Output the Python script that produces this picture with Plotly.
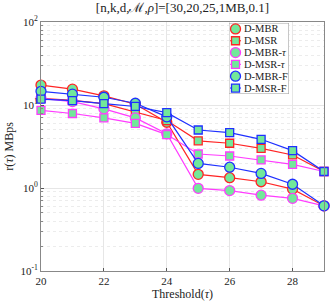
import plotly.graph_objects as go

thresholds = [20, 21, 22, 23, 24, 25, 26, 27, 28, 29]

d_mbr     = [17.4, 15.5, 12.9, 10.2, 6.2, 1.46, 1.33, 1.19, 0.97, 0.61]
d_msr     = [12.0, 11.4, 10.4, 8.3, 6.5, 3.7, 3.46, 3.0, 2.5, 1.58]
d_mbr_tau = [12.0, 11.0, 9.0, 7.0, 4.5, 0.99, 0.93, 0.82, 0.75, 0.61]
d_msr_tau = [8.6, 7.9, 7.0, 6.0, 4.4, 2.57, 2.43, 2.18, 1.93, 1.58]
d_mbr_f   = [14.6, 13.5, 12.4, 10.5, 7.2, 1.98, 1.78, 1.50, 1.11, 0.61]
d_msr_f   = [11.8, 11.3, 10.4, 9.6, 8.1, 5.0, 4.64, 3.86, 2.82, 1.58]

names = ["D-MBR", "D-MSR", "D-MBR-<i>τ</i>", "D-MSR-<i>τ</i>", "D-MBR-F", "D-MSR-F"]
series = [d_mbr, d_msr, d_mbr_tau, d_msr_tau, d_mbr_f, d_msr_f]
colors = ["#ff2424", "#ff2424", "#ff3cff", "#ff3cff", "#1f30ff", "#1f30ff"]
symbols = ["circle", "square", "circle", "square", "circle", "square"]
sizes = [10, 8, 10, 8, 10, 8]
fill = "#72e89a"
serif = "Liberation Serif, DejaVu Serif, serif"

fig = go.Figure()
for name, ys, c, s, sz in zip(names, series, colors, symbols, sizes):
    fig.add_trace(go.Scatter(
        x=thresholds, y=ys, name=name, mode="lines+markers",
        line=dict(color=c, width=1.2), cliponaxis=False, showlegend=False,
        marker=dict(symbol=s, size=sz, color=fill, line=dict(color=c, width=1.3)),
    ))

# ---- custom compact legend on an overlay axis (0..1 box coordinates) ----
n = len(names)
fig.add_trace(go.Scatter(
    x=[0, 1, 1, 0, 0], y=[0, 0, 1, 1, 0], xaxis="x2", yaxis="y2",
    mode="lines", fill="toself", fillcolor="white",
    line=dict(color="#a0a0a0", width=1), showlegend=False, hoverinfo="skip",
))
for i, (name, c, s, sz) in enumerate(zip(names, colors, symbols, sizes)):
    yy = 1 - (i + 0.5) / n
    fig.add_trace(go.Scatter(
        x=[0.02, 0.2], y=[yy, yy], xaxis="x2", yaxis="y2", mode="lines",
        line=dict(color=c, width=1.2), showlegend=False, hoverinfo="skip",
    ))
    fig.add_trace(go.Scatter(
        x=[0.11], y=[yy], xaxis="x2", yaxis="y2", mode="markers",
        marker=dict(symbol=s, size=sz, color=fill, line=dict(color=c, width=1.3)),
        showlegend=False, hoverinfo="skip",
    ))
    fig.add_annotation(
        x=0.2, y=yy, xref="x2", yref="y2", text=name, showarrow=False,
        xanchor="left", yanchor="middle", xshift=1,
        font=dict(size=10.5, family=serif, color="#222"),
    )

minor_vals = [m * 10 ** e for e in (-1, 0, 1) for m in range(2, 10)]

fig.update_layout(
    width=332, height=305,
    margin=dict(l=41, r=8, t=22, b=34),
    paper_bgcolor="white", plot_bgcolor="white",
    font=dict(family=serif, size=11, color="#222"),
    title=dict(text="[n,k,d,ℳ,<i>ρ</i>]=[30,20,25,1MB,0.1]", x=0.5, xref="paper",
               xanchor="center", y=0.99, yanchor="top",
               font=dict(size=13, family=serif, color="#222")),
    showlegend=False,
    xaxis=dict(
        range=[20, 29], tickvals=[20, 22, 24, 26, 28], automargin=False,
        ticks="inside", ticklen=3, tickcolor="#555",
        showline=True, linecolor="#888", linewidth=1, mirror=True,
        showgrid=True, gridcolor="#e6e6e6", zeroline=False,
        tickfont=dict(size=11, family=serif, color="#222"),
        title=dict(text="Threshold(<i>τ</i>)", standoff=3, font=dict(size=12, family=serif)),
    ),
    yaxis=dict(
        type="log", range=[-1, 2], automargin=False,
        tickvals=[0.1, 1, 10, 100],
        ticktext=["10<sup>-1</sup>", "10<sup>0</sup>", "10<sup>1</sup>", "10<sup>2</sup>"],
        ticks="inside", ticklen=3, tickcolor="#555",
        showline=True, linecolor="#888", linewidth=1, mirror=True,
        showgrid=True, gridcolor="#e6e6e6", zeroline=False,
        minor=dict(tickvals=minor_vals, ticks="inside", ticklen=2, tickcolor="#888",
                   showgrid=True, gridcolor="#ececec", griddash="dot"),
        tickfont=dict(size=11, family=serif, color="#222"),
        title=dict(text="r(<i>τ</i>) MBps", standoff=4, font=dict(size=12, family=serif)),
    ),
    xaxis2=dict(domain=[0.664, 0.876], range=[0, 1], visible=False,
                anchor="y2", fixedrange=True),
    yaxis2=dict(domain=[0.711, 0.996], range=[0, 1], visible=False,
                anchor="x2", fixedrange=True),
)

fig.write_html(
    "out.html",
    config={"displayModeBar": False},
    post_script="document.body.style.margin='0';document.body.style.overflow='hidden';",
)
